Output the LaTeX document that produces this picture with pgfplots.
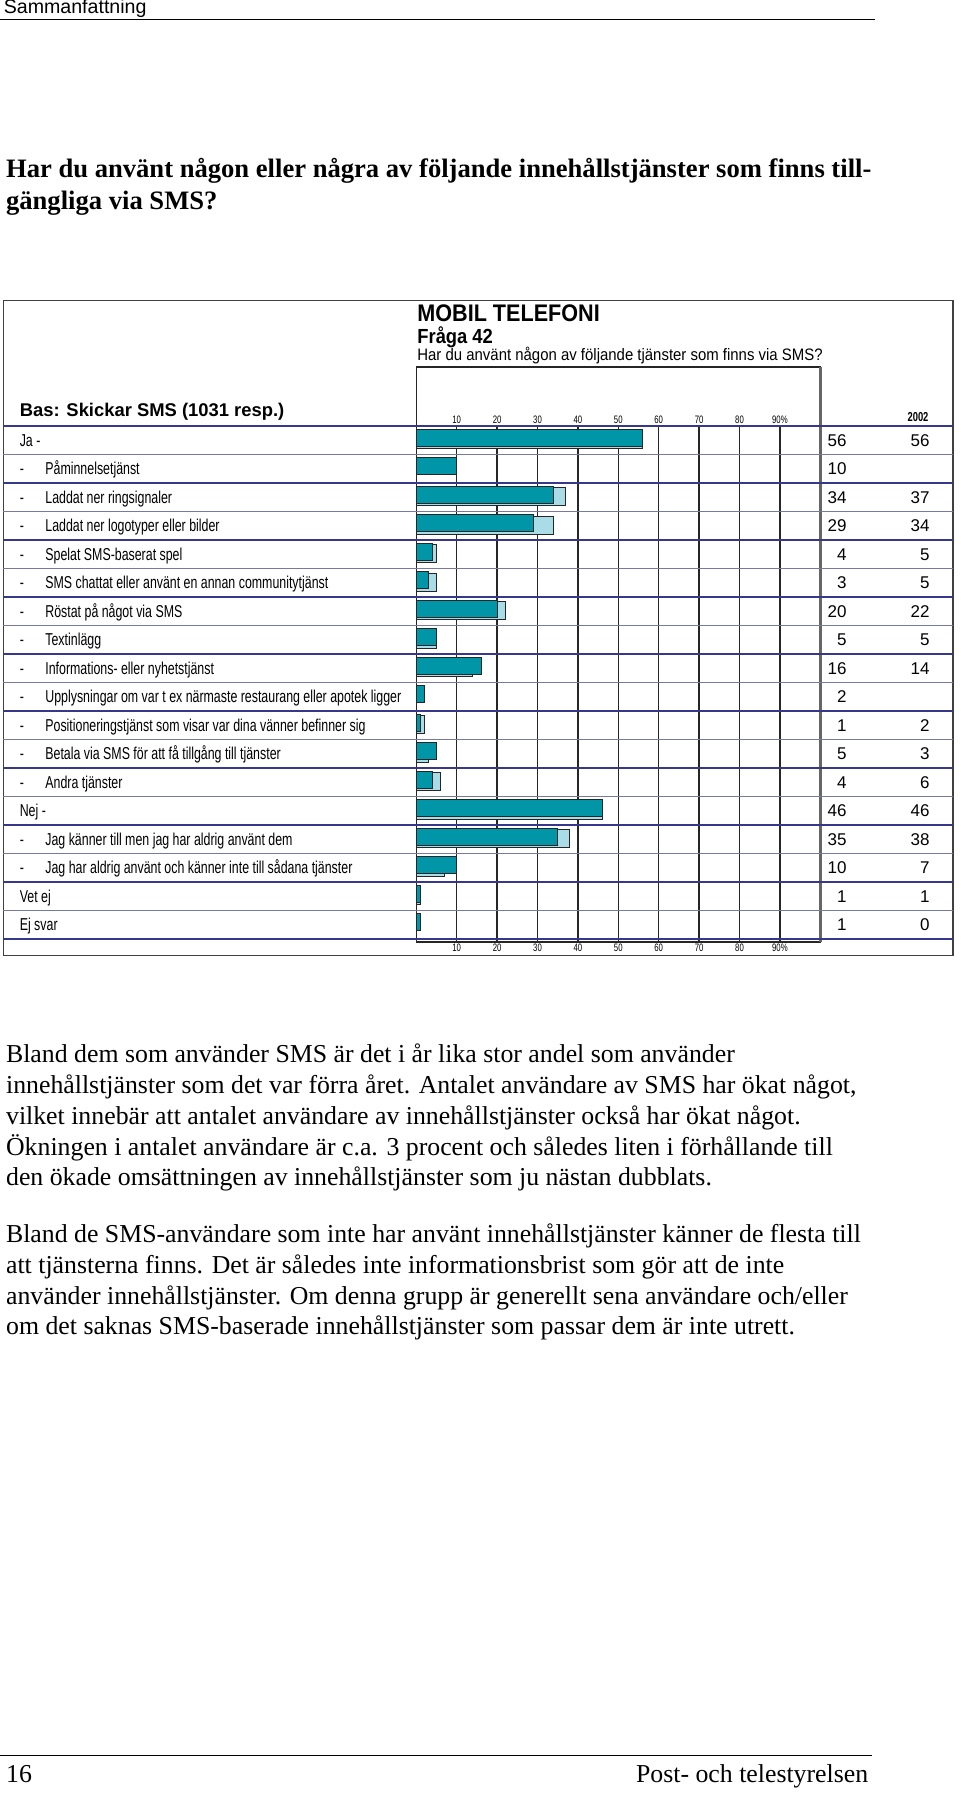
\documentclass[border=0pt]{standalone}
\usepackage{fontspec}
\usepackage{pgfplots}
\usepackage{pgfplotstable}
\pgfplotsset{compat=1.18}
\setmainfont{Liberation Serif}
\newfontfamily\sansR{Liberation Sans}
\newfontfamily\sansN[FakeStretch=0.72]{Liberation Sans}
\newfontfamily\sansM[FakeStretch=0.9]{Liberation Sans}
\definecolor{teal1}{RGB}{0,150,168}
\definecolor{lblue}{RGB}{170,220,232}
\definecolor{rowA}{RGB}{55,55,140}
\definecolor{rowB}{RGB}{120,120,165}

% 2003 values (row i plotted at y=-i)
\pgfplotstableread{
v y
56 0
10 -1
34 -2
29 -3
4 -4
3 -5
20 -6
5 -7
16 -8
2 -9
1 -10
5 -11
4 -12
46 -13
35 -14
10 -15
1 -16
1 -17
}\tabA
% 2002 values
\pgfplotstableread{
v y
56 0
37 -2
34 -3
5 -4
5 -5
22 -6
5 -7
14 -8
2 -10
3 -11
6 -12
46 -13
38 -14
7 -15
1 -16
0 -17
}\tabB

\begin{document}
\begin{tikzpicture}[x=0.5pt,y=-0.5pt]
\useasboundingbox (0,0) rectangle (960,1793);
\coordinate (AX) at (416.3,367);

% page header
\node[anchor=base west,inner sep=0,font=\sansR\fontsize{9.8}{11}\selectfont] at (3.4,13.7) {Sammanfattning};
\draw[line width=0.8pt] (0,19.4) -- (875,19.4);

% heading
\node[anchor=base west,inner sep=0,font=\bfseries\fontsize{13.3}{16}\selectfont] at (5.7,177.5) {Har du använt någon eller några av följande innehållstjänster som finns till-};
\node[anchor=base west,inner sep=0,font=\bfseries\fontsize{13.3}{16}\selectfont] at (5.7,209.5) {gängliga via SMS?};

% chart frame
\draw[black!75,line width=0.6pt] (3.4,300.6) rectangle (953,955.4);
\node[anchor=base west,inner sep=0,font=\sansM\bfseries\fontsize{12}{14}\selectfont] at (417,321) {MOBIL TELEFONI};
\node[anchor=base west,inner sep=0,font=\sansM\bfseries\fontsize{10.2}{12}\selectfont] at (417,343.4) {Fråga 42};
\node[anchor=base west,inner sep=0,font=\sansM\fontsize{8.3}{10}\selectfont] at (417,360) {Har du använt någon av följande tjänster som finns via SMS?};
\node[anchor=base west,inner sep=0,font=\sansR\bfseries\fontsize{9.2}{11}\selectfont] at (19.4,416) {Bas: Skickar SMS (1031 resp.)};
\node[anchor=base,inner sep=0,font=\sansN\bfseries\fontsize{6.5}{8}\selectfont] at (918,421.4) {2002};

\begin{axis}[
  at={(AX)}, anchor=north west,
  width=202pt, height=287.5pt, scale only axis,
  xmin=0, xmax=100, ymin=-17.605, ymax=2.57,
  axis line style={black!85,line width=0.6pt},
  xtick={10,20,...,90}, xticklabels={10,20,30,40,50,60,70,80,90\%},
  ytick=\empty, major tick length=0pt,
  xticklabel style={font=\sansN\fontsize{5.4}{6}\selectfont,inner sep=0pt,anchor=north,yshift=-1pt},
  clip=false,
]
\pgfplotsinvokeforeach{10,20,...,90}{
  \addplot[forget plot,sharp plot,mark=none,black!85,line width=0.7pt] coordinates {(#1,0.5) (#1,-17.605)};
}
\addplot[forget plot,xbar,fill=lblue,draw=black!85,line width=0.4pt,bar width=9pt,bar shift=0.25pt] table[x=v,y=y] {\tabB};
\addplot[forget plot,xbar,fill=teal1,draw=black!85,line width=0.4pt,bar width=8.5pt,bar shift=1.25pt] table[x=v,y=y] {\tabA};
\pgfplotsinvokeforeach{10,20,...,80}{
  \node[font=\sansN\fontsize{5.4}{6}\selectfont,inner sep=0pt] at (axis cs:#1,0.71) {#1};
}
\node[font=\sansN\fontsize{5.4}{6}\selectfont,inner sep=0pt] at (axis cs:90,0.71) {90\%};
\end{axis}

% thick right border of plot
\draw[black!60,line width=1.6pt] (820.3,367) -- (820.3,942);

% row lines
\foreach \k in {0,2,...,18} {\draw[rowA,line width=0.75pt] (3.4,{426+28.5*\k}) -- (953,{426+28.5*\k});}
\foreach \k in {1,3,...,17} {\draw[rowB,line width=0.75pt] (3.4,{426+28.5*\k}) -- (953,{426+28.5*\k});}

% row labels
\begin{scope}[every node/.style={anchor=base west,inner sep=0,font=\sansN\fontsize{8.6}{10}\selectfont}]
\foreach \i/\t in {0/Ja -,13/Nej -,16/Vet ej,17/Ej svar} {\node at (19.4,{446.25+28.5*\i}) {\t};}
\foreach \i/\t in {1/Påminnelsetjänst,2/Laddat ner ringsignaler,3/Laddat ner logotyper eller bilder,4/Spelat SMS-baserat spel,5/SMS chattat eller använt en annan communitytjänst,6/Röstat på något via SMS,7/Textinlägg,8/Informations- eller nyhetstjänst,9/Upplysningar om var t ex närmaste restaurang eller apotek ligger,10/Positioneringstjänst som visar var dina vänner befinner sig,11/Betala via SMS för att få tillgång till tjänster,12/Andra tjänster,14/Jag känner till men jag har aldrig använt dem,15/Jag har aldrig använt och känner inte till sådana tjänster}
  {\node at (19.4,{446.25+28.5*\i}) {-}; \node at (45,{446.25+28.5*\i}) {\t};}
\end{scope}

% value columns
\begin{scope}[every node/.style={anchor=base east,inner sep=0,font=\sansR\fontsize{8.5}{10}\selectfont}]
\foreach \i/\a/\b in {0/56/56,1/10/,2/34/37,3/29/34,4/4/5,5/3/5,6/20/22,7/5/5,8/16/14,9/2/,10/1/2,11/5/3,12/4/6,13/46/46,14/35/38,15/10/7,16/1/1,17/1/0}
  {\node at (847,{446.25+28.5*\i}) {\a}; \node at (930,{446.25+28.5*\i}) {\b};}
\end{scope}

% body text
\begin{scope}[every node/.style={anchor=base west,inner sep=0,font=\fontsize{12.9}{15}\selectfont}]
\node at (5.7,1062.9) {Bland dem som använder SMS är det i år lika stor andel som använder};
\node at (5.7,1093.7) {innehållstjänster som det var förra året. Antalet användare av SMS har ökat något,};
\node at (5.7,1124.6) {vilket innebär att antalet användare av innehållstjänster också har ökat något.};
\node at (5.7,1155.4) {Ökningen i antalet användare är c.a. 3 procent och således liten i förhållande till};
\node at (5.7,1185.1) {den ökade omsättningen av innehållstjänster som ju nästan dubblats.};
\node at (5.7,1242.3) {Bland de SMS-användare som inte har använt innehållstjänster känner de flesta till};
\node at (5.7,1273.1) {att tjänsterna finns. Det är således inte informationsbrist som gör att de inte};
\node at (5.7,1304) {använder innehållstjänster. Om denna grupp är generellt sena användare och/eller};
\node at (5.7,1334.9) {om det saknas SMS-baserade innehållstjänster som passar dem är inte utrett.};
\end{scope}

% footer
\draw[line width=0.8pt] (0,1755.4) -- (872,1755.4);
\node[anchor=base west,inner sep=0,font=\fontsize{12.9}{15}\selectfont] at (5.7,1782) {16};
\node[anchor=base east,inner sep=0,font=\fontsize{12.9}{15}\selectfont] at (868.6,1782) {Post- och telestyrelsen};
\end{tikzpicture}
\end{document}
